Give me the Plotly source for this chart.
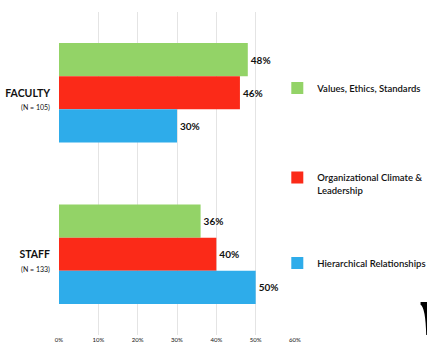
import plotly.graph_objects as go

categories = ["<b>FACULTY</b><br><span style='font-size:7px'>(N = 105)</span>",
              "<b>STAFF</b><br><span style='font-size:7px'>(N = 133)</span>"]
series_names = ["Values, Ethics, Standards", "Organizational Climate &<br>Leadership", "Hierarchical Relationships"]
values_green = [0.48, 0.36]
values_red = [0.46, 0.40]
values_blue = [0.30, 0.50]
colors = ["#93d367", "#fb2a18", "#2eacea"]
tick_vals = [0, 0.1, 0.2, 0.3, 0.4, 0.5, 0.6]

FONT = "Lato, Roboto, sans-serif"

fig = go.Figure()
all_vals = [values_green, values_red, values_blue]
legends = ["legend", "legend2", "legend3"]
for name, vals, col, lg in zip(series_names, all_vals, colors, legends):
    fig.add_trace(go.Bar(
        y=categories, x=vals, name=name, orientation="h",
        marker=dict(color=col, line=dict(width=0)),
        text=[f"<b>{v*100:.0f}%</b>" for v in vals],
        textposition="outside", cliponaxis=False,
        textfont=dict(size=10, color="#111111", family=FONT),
        legend=lg, showlegend=True,
    ))

leg_common = dict(font=dict(size=9.5, color="#111111", family=FONT, weight=600),
                  bgcolor="rgba(0,0,0,0)", xanchor="left", yanchor="middle",
                  itemwidth=30, itemclick=False)
fig.update_layout(
    width=427, height=354,
    margin=dict(l=59, r=132, t=12, b=19, autoexpand=False),
    plot_bgcolor="white", paper_bgcolor="white",
    showlegend=True,
    barmode="group", bargap=0.385, bargroupgap=0,
    font=dict(family=FONT, color="#111111"),
    xaxis=dict(range=[0, 0.6], tickvals=tick_vals, tickformat=".0%",
               showgrid=True, gridcolor="#e4e4e4", gridwidth=1,
               zeroline=False, showline=False, ticks="",
               tickfont=dict(size=6, color="#111111", family=FONT)),
    yaxis=dict(autorange="reversed", showgrid=False, ticks="", showline=False,
               ticklabelstandoff=8, ticklabelshift=-7,
               tickfont=dict(size=10.5, color="#111111", family=FONT)),
    legend=dict(x=0.925, y=0.765, **leg_common),
    legend2=dict(x=0.925, y=0.468, valign="top", **leg_common),
    legend3=dict(x=0.925, y=0.223, **leg_common),
    shapes=[dict(type="path", xref="paper", yref="paper", layer="above",
                 path="M 1.532,0.102 L 1.56,0.102 L 1.56,0.0 L 1.556,0.0 "
                      "Q 1.553,0.085 1.532,0.094 Z",
                 fillcolor="black", line=dict(width=0))],
)

fig.write_html("out.html")
